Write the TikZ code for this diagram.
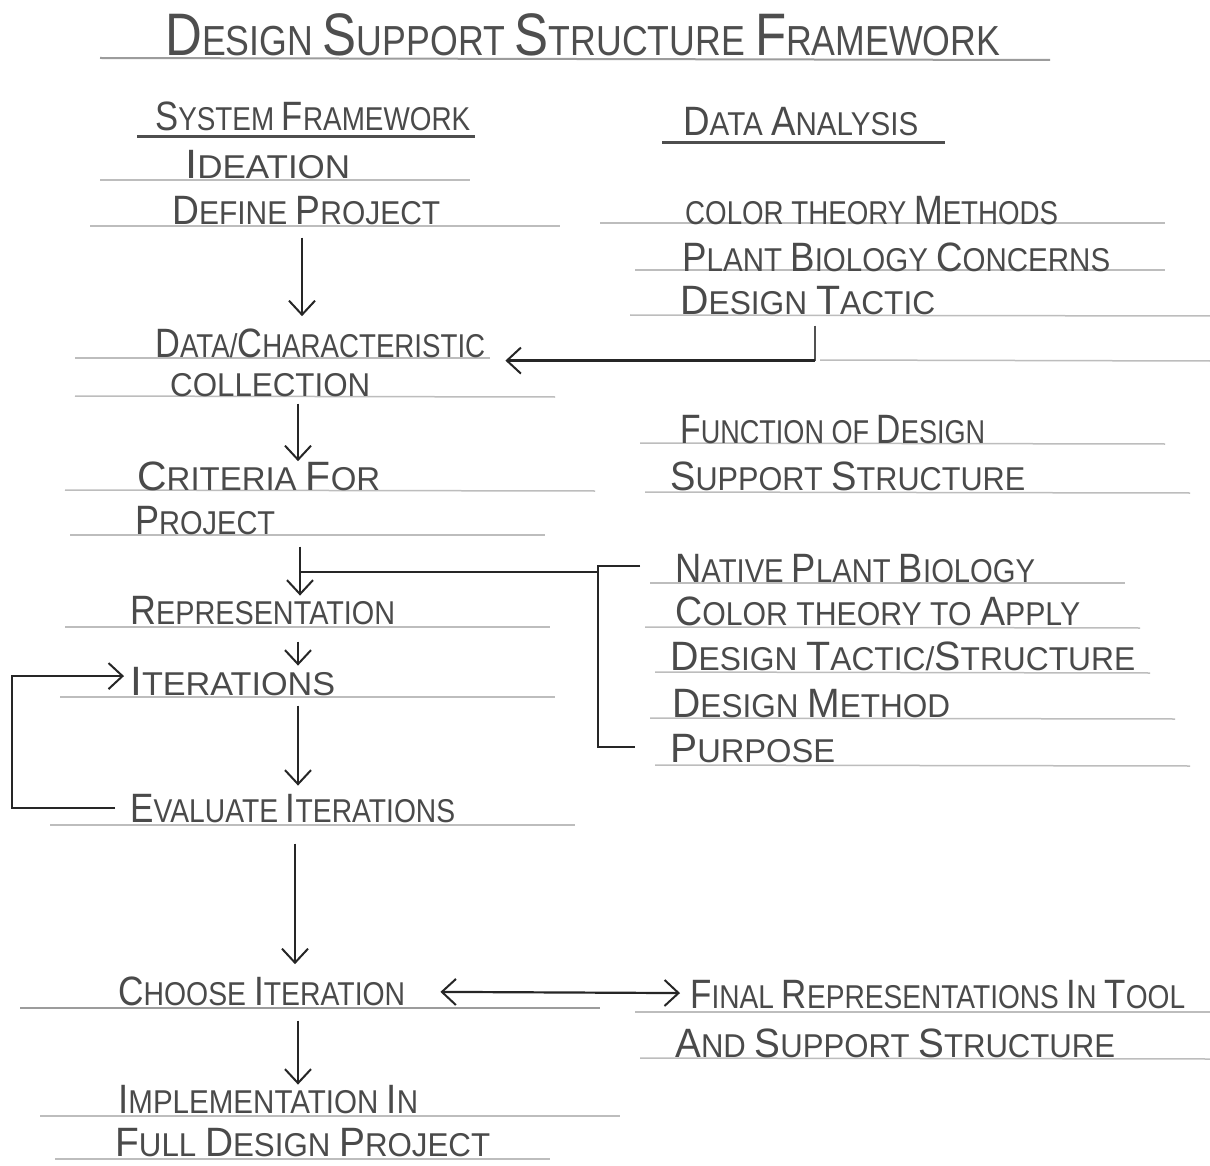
\documentclass[tikz,border=0pt]{standalone}
\usepackage{fontspec}
\setmainfont{Liberation Sans}
\usepackage{graphicx}
\usetikzlibrary{arrows.meta,calc}

\definecolor{ink}{HTML}{4A4A4A}
\definecolor{lead}{HTML}{262626}
\definecolor{ruling}{HTML}{BDBDBD}
\definecolor{rulingdark}{HTML}{9C9C9C}
\definecolor{heading}{HTML}{4E4E4E}

% larger initial letters of the hand-lettered small caps
\newcommand\I[1]{{\fontsize{41}{41}\selectfont #1}}
\newcommand\T[1]{{\fontsize{60}{60}\selectfont #1}}
% squeeze a line of lettering to a given width
\newcommand\hw[2]{\resizebox{#1pt}{\height}{#2}}

\tikzset{
  txt/.style={anchor=base west, inner sep=0pt, text=ink,
              font=\fontsize{33}{35}\selectfont},
  titletxt/.style={txt, text=heading, font=\fontsize{42}{44}\selectfont},
  ruleline/.style={draw=ruling, line width=1.5pt},
  ruleheavy/.style={draw=rulingdark, line width=2pt},
  underl/.style={draw=heading, line width=3pt},
  wire/.style={draw=lead, line width=2.2pt},
  thinwire/.style={draw=lead!80, line width=1.6pt},
  flow/.style={wire, -{Straight Barb[length=14pt,width=26pt,line width=2pt]}},
  flowboth/.style={wire, {Straight Barb[length=14pt,width=26pt,line width=2pt]}-{Straight Barb[length=14pt,width=26pt,line width=2pt]}},
}

\begin{document}
\begin{tikzpicture}[x=1pt,y=-1pt]
\useasboundingbox (0,0) rectangle (1210,1166);
\fill[white] (0,0) rectangle (1210,1166);

% ---- ruled lines of the sheet ----
\draw[ruleheavy] (100,58) -- (1050,60);
\draw[underl] (137,137) -- (475,137);
\draw[underl] (662,143) -- (945,143);
\draw[ruleline] (100,180) -- (470,180);
\draw[ruleline] (90,226) -- (560,226);
\draw[ruleline] (600,223) -- (1165,223);
\draw[ruleline] (635,270) -- (1165,270);
\draw[ruleline] (630,315) -- (1210,316);
\draw[ruleline] (75,358) -- (490,358);
\draw[ruleline] (820,360) -- (1210,361);
\draw[ruleline] (75,396) -- (555,397);
\draw[ruleline] (640,443) -- (1165,444);
\draw[ruleline] (65,490) -- (595,491);
\draw[ruleline] (645,492) -- (1190,493);
\draw[ruleline] (70,535) -- (545,535);
\draw[ruleline] (650,583) -- (1125,583);
\draw[ruleline] (65,627) -- (550,627);
\draw[ruleline] (645,627) -- (1140,628);
\draw[ruleline] (655,672) -- (1150,673);
\draw[ruleline] (60,697) -- (555,697);
\draw[ruleline] (650,718) -- (1175,719);
\draw[ruleline] (655,765) -- (1190,766);
\draw[ruleline] (50,825) -- (575,825);
\draw[ruleheavy] (20,1008) -- (600,1008);
\draw[ruleline] (635,1012) -- (1210,1012);
\draw[ruleline] (640,1058) -- (1210,1059);
\draw[ruleline] (40,1116) -- (620,1116);
\draw[ruleline] (55,1159) -- (550,1159);

% ---- lettering ----
\node[titletxt] (title) at (165,56) {\hw{835}{\T{D}ESIGN \T{S}UPPORT \T{S}TRUCTURE \T{F}RAMEWORK}};
\node[txt] (sysfw) at (155,131) {\hw{315}{\I{S}YSTEM \I{F}RAMEWORK}};
\node[txt] (dataan) at (683,136) {\hw{235}{\I{D}ATA \I{A}NALYSIS}};

\node[txt] (ideation) at (185,179) {\hw{165}{\I{I}DEATION}};
\node[txt] (define) at (172,225) {\hw{268}{\I{D}EFINE \I{P}ROJECT}};
\node[txt] (datachar) at (155,357) {\hw{330}{\I{D}ATA/\I{C}HARACTERISTIC}};
\node[txt] (collect) at (170,396) {\hw{200}{COLLECTION}};
\node[txt] (criteria) at (137,490) {\hw{243}{\I{C}RITERIA \I{F}OR}};
\node[txt] (project) at (135,534) {\hw{140}{\I{P}ROJECT}};
\node[txt] (repres) at (130,624) {\hw{265}{\I{R}EPRESENTATION}};
\node[txt] (iter) at (130,695) {\hw{205}{\I{I}TERATIONS}};
\node[txt] (evaluate) at (130,822) {\hw{325}{\I{E}VALUATE \I{I}TERATIONS}};
\node[txt] (choose) at (118,1005) {\hw{287}{\I{C}HOOSE \I{I}TERATION}};
\node[txt] (implement) at (118,1113) {\hw{300}{\I{I}MPLEMENTATION \I{I}N}};
\node[txt] (full) at (115,1156) {\hw{375}{\I{F}ULL \I{D}ESIGN \I{P}ROJECT}};

\node[txt] (colorm) at (685,225) {\hw{373}{COLOR THEORY \I{M}ETHODS}};
\node[txt] (plant) at (682,272) {\hw{428}{\I{P}LANT \I{B}IOLOGY \I{C}ONCERNS}};
\node[txt] (tactic) at (680,315) {\hw{255}{\I{D}ESIGN \I{T}ACTIC}};
\node[txt] (function) at (680,443) {\hw{305}{\I{F}UNCTION OF \I{D}ESIGN}};
\node[txt] (support) at (670,490) {\hw{355}{\I{S}UPPORT \I{S}TRUCTURE}};
\node[txt] (native) at (675,582) {\hw{360}{\I{N}ATIVE \I{P}LANT \I{B}IOLOGY}};
\node[txt] (colorapply) at (675,625) {\hw{405}{\I{C}OLOR THEORY TO \I{A}PPLY}};
\node[txt] (tacstruct) at (670,670) {\hw{465}{\I{D}ESIGN \I{T}ACTIC/\I{S}TRUCTURE}};
\node[txt] (method) at (672,717) {\hw{278}{\I{D}ESIGN \I{M}ETHOD}};
\node[txt] (purpose) at (670,762) {\hw{165}{\I{P}URPOSE}};
\node[txt] (final) at (690,1008) {\hw{495}{\I{F}INAL \I{R}EPRESENTATIONS \I{I}N \I{T}OOL}};
\node[txt] (andsupport) at (675,1057) {\hw{440}{\I{A}ND \I{S}UPPORT \I{S}TRUCTURE}};

% ---- guide coordinates for the connectors ----
\coordinate (spine) at (300,0);
\coordinate (tx) at (815,0);
\coordinate (bk) at (598,0);
\coordinate (loopx) at (12,0);

% ---- main flow ----
\draw[flow] ($(define.south -| spine)+(2,12)$) -- ($(datachar.north -| spine)+(2,-12)$);
\draw[thinwire] ($(tactic.south -| tx)+(0,10)$) -- ($(datachar.south east -| tx)+(0,3)$);
\draw[flow, line width=2.8pt] ($(datachar.south east -| tx)+(0,3)$) -- ($(datachar.south east)+(20,3)$);
\draw[flow] ($(collect.south -| spine)+(-2,7)$) -- ($(criteria.north -| spine)+(-2,0)$);
\draw[flow] ($(project.south -| spine)+(0,12)$) -- ($(repres.north -| spine)+(0,0)$);
\draw[flow] ($(repres.south -| spine)+(-2,17)$) -- ($(iter.north -| spine)+(-2,-1)$);
\draw[flow] ($(iter.south -| spine)+(-2,10)$) -- ($(evaluate.north -| spine)+(-2,-8)$);
\draw[flow] ($(evaluate.west)+(-15,0)$) -| ($(iter.west -| loopx)+(0,-5)$) -- ($(iter.west)+(-6,-5)$);
\draw[flow] ($(evaluate.south -| spine)+(-5,21)$) -- ($(choose.north -| spine)+(-5,-12)$);
\draw[flowboth] ($(choose.east)+(35,1)$) -- ($(final.west)+(-10,-1)$);
\draw[flow] ($(choose.south -| spine)+(-2,15)$) -- ($(implement.north -| spine)+(-2,0)$);

% ---- bracket of design inputs feeding the representation ----
\draw[wire] ($(native.west)+(-35,-2)$) -| ($(purpose.west -| bk)+(0,-1)$) -- ($(purpose.west)+(-35,-1)$);
\draw[wire] ($(native.west -| bk)+(0,4)$) -- ($(native.west -| spine)+(0,4)$);
\end{tikzpicture}
\end{document}
